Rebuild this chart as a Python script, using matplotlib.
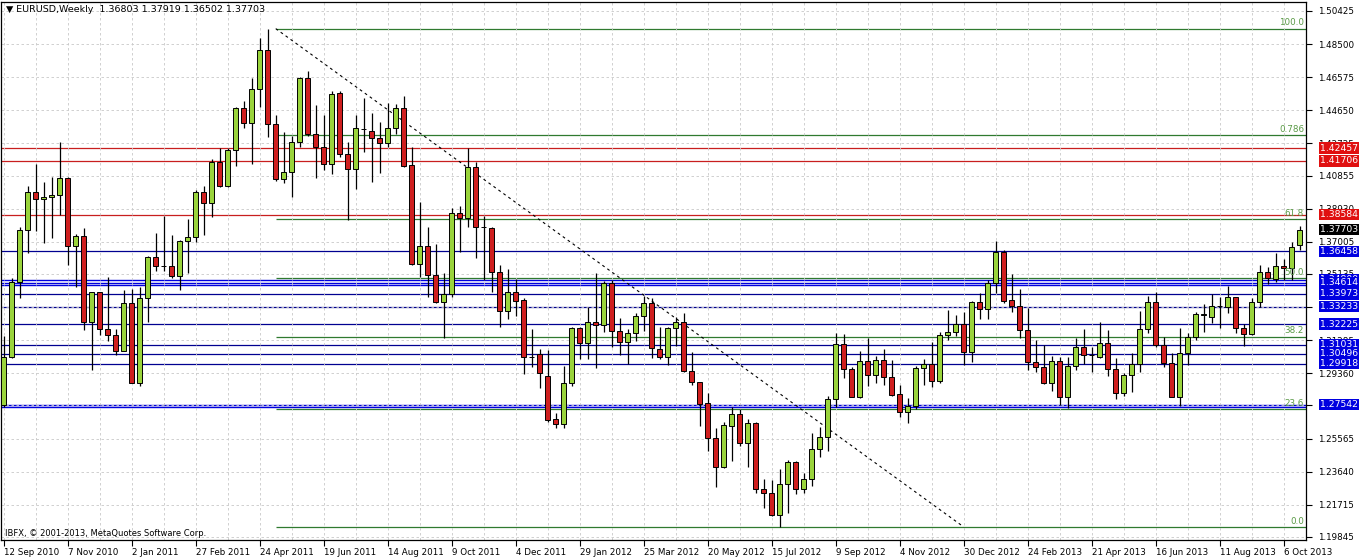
import matplotlib
matplotlib.use("Agg")
import matplotlib.pyplot as plt
import matplotlib.transforms as mtransforms
import numpy as np

# Weekly EURUSD bars, 12 Sep 2010 .. 20 Oct 2013
opens = [1.2752, 1.3033, 1.3469, 1.3769, 1.3992, 1.3948, 1.3960, 1.3973, 1.4073, 1.3678,
         1.3736, 1.3232, 1.3407, 1.3192, 1.3157, 1.3068, 1.3347, 1.2882, 1.3372, 1.3610,
         1.3562, 1.3560, 1.3504, 1.3707, 1.3727, 1.3988, 1.3928, 1.4167, 1.4027, 1.4234,
         1.4477, 1.4393, 1.4587, 1.4816, 1.4384, 1.4064, 1.4108, 1.4283, 1.4651, 1.4327,
         1.4254, 1.4153, 1.4564, 1.4209, 1.4122, 1.4355, 1.4347, 1.4302, 1.4277, 1.4360,
         1.4477, 1.4145, 1.3572, 1.3676, 1.3508, 1.3349, 1.3395, 1.3866, 1.3841, 1.4134,
         1.3785, 1.3779, 1.3527, 1.3300, 1.3407, 1.3362, 1.3033, 1.3046, 1.2920, 1.2669,
         1.2641, 1.2878, 1.3198, 1.3114, 1.3232, 1.3217, 1.3463, 1.3182, 1.3116, 1.3168,
         1.3271, 1.3347, 1.3075, 1.3033, 1.3198, 1.3234, 1.2951, 1.2887, 1.2761, 1.2558,
         1.2389, 1.2632, 1.2698, 1.2529, 1.2645, 1.2262, 1.2238, 1.2112, 1.2291, 1.2418,
         1.2262, 1.2320, 1.2494, 1.2564, 1.2785, 1.3105, 1.2959, 1.2796, 1.3008, 1.2924,
         1.3013, 1.2913, 1.2814, 1.2709, 1.2748, 1.2969, 1.2988, 1.2893, 1.3157, 1.3174,
         1.3223, 1.3058, 1.3349, 1.3308, 1.3463, 1.3643, 1.3362, 1.3329, 1.3188, 1.3004,
         1.2975, 1.2882, 1.3010, 1.2796, 1.2981, 1.3087, 1.3043, 1.3033, 1.3110, 1.2959,
         1.2820, 1.2926, 1.2988, 1.3192, 1.3349, 1.3101, 1.2998, 1.2800, 1.3052, 1.3149,
         1.3276, 1.3265, 1.3329, 1.3320, 1.3378, 1.3198, 1.3163, 1.3349, 1.3527, 1.3484,
         1.3562, 1.3546, 1.36803]
highs = [1.3153, 1.3488, 1.3785, 1.4025, 1.4153, 1.4046, 1.4079, 1.4279, 1.4079, 1.3744,
         1.3779, 1.3411, 1.3411, 1.3498, 1.3192, 1.3420, 1.3424, 1.3440, 1.3618, 1.3750,
         1.3851, 1.3740, 1.3711, 1.3833, 1.4002, 1.4027, 1.4182, 1.4244, 1.4244, 1.4482,
         1.4519, 1.4651, 1.4884, 1.4940, 1.4438, 1.4341, 1.4316, 1.4657, 1.4696, 1.4496,
         1.4438, 1.4579, 1.4579, 1.4283, 1.4438, 1.4535, 1.4448, 1.4399, 1.4510, 1.4500,
         1.4548, 1.4250, 1.3934, 1.3789, 1.3688, 1.3517, 1.3895, 1.3909, 1.4244, 1.4167,
         1.3851, 1.3789, 1.3566, 1.3541, 1.3482, 1.3372, 1.3192, 1.3075, 1.3072, 1.2707,
         1.2979, 1.3203, 1.3207, 1.3320, 1.3521, 1.3475, 1.3479, 1.3260, 1.3192, 1.3289,
         1.3386, 1.3372, 1.3207, 1.3207, 1.3262, 1.3285, 1.3062, 1.2888, 1.2820, 1.2616,
         1.2655, 1.2742, 1.2727, 1.2668, 1.2655, 1.2320, 1.2316, 1.2378, 1.2432, 1.2426,
         1.2355, 1.2587, 1.2626, 1.2804, 1.3168, 1.3165, 1.2975, 1.3068, 1.3139, 1.3037,
         1.3075, 1.3013, 1.2868, 1.2791, 1.2979, 1.3017, 1.3120, 1.3178, 1.3304, 1.3275,
         1.3294, 1.3358, 1.3401, 1.3479, 1.3705, 1.3655, 1.3513, 1.3424, 1.3314, 1.3130,
         1.3101, 1.3037, 1.3033, 1.3033, 1.3139, 1.3194, 1.3091, 1.3236, 1.3188, 1.3023,
         1.2940, 1.3052, 1.3300, 1.3386, 1.3411, 1.3145, 1.3056, 1.3201, 1.3169, 1.3294,
         1.3339, 1.3397, 1.3382, 1.3444, 1.3382, 1.3223, 1.3372, 1.3566, 1.3552, 1.3638,
         1.3599, 1.3701, 1.37919]
lows = [1.2742, 1.3023, 1.3372, 1.3634, 1.3765, 1.3692, 1.3721, 1.3857, 1.3566, 1.3440,
        1.3188, 1.2955, 1.3159, 1.3126, 1.3043, 1.3068, 1.2878, 1.2862, 1.3236, 1.3533,
        1.3533, 1.3488, 1.3420, 1.3517, 1.3701, 1.3740, 1.3847, 1.4021, 1.4021, 1.4143,
        1.4360, 1.4153, 1.4486, 1.4312, 1.4056, 1.4045, 1.3963, 1.4254, 1.4316, 1.4070,
        1.4118, 1.4095, 1.4196, 1.3827, 1.4006, 1.4225, 1.4050, 1.4099, 1.4254, 1.4327,
        1.4134, 1.3566, 1.3498, 1.3378, 1.3343, 1.3139, 1.3382, 1.3639, 1.3789, 1.3605,
        1.3479, 1.3411, 1.3203, 1.3250, 1.3269, 1.2932, 1.2975, 1.2849, 1.2655, 1.2616,
        1.2616, 1.2862, 1.3017, 1.3017, 1.2965, 1.3178, 1.3091, 1.3040, 1.2990, 1.3126,
        1.3184, 1.3025, 1.3017, 1.2984, 1.3095, 1.2946, 1.2868, 1.2632, 1.2486, 1.2277,
        1.2384, 1.2426, 1.2513, 1.2393, 1.2242, 1.2151, 1.2106, 1.2043, 1.2122, 1.2234,
        1.2238, 1.2281, 1.2451, 1.2486, 1.2742, 1.2907, 1.2796, 1.2791, 1.2862, 1.2882,
        1.2868, 1.2805, 1.2680, 1.2649, 1.2727, 1.2868, 1.2858, 1.2878, 1.3130, 1.3153,
        1.2984, 1.3004, 1.3250, 1.3250, 1.3405, 1.3347, 1.3294, 1.3139, 1.2955, 1.2946,
        1.2874, 1.2835, 1.2752, 1.2732, 1.2955, 1.2990, 1.2946, 1.3023, 1.2922, 1.2785,
        1.2806, 1.2829, 1.2946, 1.3169, 1.3091, 1.2975, 1.2796, 1.2746, 1.2984, 1.3130,
        1.3178, 1.3227, 1.3198, 1.3285, 1.3169, 1.3095, 1.3159, 1.3320, 1.3455, 1.3469,
        1.3479, 1.3479, 1.36502]
closes = [1.3033, 1.3469, 1.3769, 1.3992, 1.3948, 1.3960, 1.3973, 1.4070, 1.3678, 1.3736,
          1.3232, 1.3407, 1.3192, 1.3157, 1.3068, 1.3347, 1.2882, 1.3372, 1.3610, 1.3562,
          1.3560, 1.3504, 1.3705, 1.3727, 1.3988, 1.3928, 1.4167, 1.4027, 1.4234, 1.4477,
          1.4393, 1.4587, 1.4816, 1.4384, 1.4064, 1.4108, 1.4283, 1.4651, 1.4327, 1.4254,
          1.4151, 1.4560, 1.4209, 1.4122, 1.4360, 1.4357, 1.4302, 1.4277, 1.4360, 1.4477,
          1.4141, 1.3572, 1.3676, 1.3508, 1.3349, 1.3395, 1.3866, 1.3841, 1.4134, 1.3785,
          1.3784, 1.3527, 1.3300, 1.3407, 1.3358, 1.3029, 1.3030, 1.2936, 1.2665, 1.2641,
          1.2878, 1.3198, 1.3114, 1.3232, 1.3217, 1.3463, 1.3180, 1.3116, 1.3168, 1.3271,
          1.3347, 1.3081, 1.3033, 1.3198, 1.3234, 1.2951, 1.2887, 1.2758, 1.2558, 1.2389,
          1.2636, 1.2698, 1.2529, 1.2645, 1.2262, 1.2238, 1.2112, 1.2291, 1.2418, 1.2262,
          1.2320, 1.2494, 1.2564, 1.2785, 1.3105, 1.2959, 1.2796, 1.3008, 1.2924, 1.3013,
          1.2913, 1.2810, 1.2709, 1.2748, 1.2969, 1.2988, 1.2893, 1.3157, 1.3174, 1.3223,
          1.3058, 1.3349, 1.3308, 1.3463, 1.3639, 1.3358, 1.3329, 1.3188, 1.3004, 1.2975,
          1.2882, 1.3010, 1.2796, 1.2981, 1.3087, 1.3043, 1.3040, 1.3110, 1.2959, 1.2820,
          1.2926, 1.2988, 1.3192, 1.3349, 1.3101, 1.2998, 1.2800, 1.3052, 1.3149, 1.3279,
          1.3280, 1.3329, 1.3327, 1.3378, 1.3198, 1.3163, 1.3349, 1.3527, 1.3488, 1.3562,
          1.3546, 1.3672, 1.37703]

date_labels = ["12 Sep 2010", "7 Nov 2010", "2 Jan 2011", "27 Feb 2011", "24 Apr 2011",
               "19 Jun 2011", "14 Aug 2011", "9 Oct 2011", "4 Dec 2011", "29 Jan 2012",
               "25 Mar 2012", "20 May 2012", "15 Jul 2012", "9 Sep 2012", "4 Nov 2012",
               "30 Dec 2012", "24 Feb 2013", "21 Apr 2013", "16 Jun 2013", "11 Aug 2013",
               "6 Oct 2013"]
price_ticks = [1.50425, 1.48500, 1.46575, 1.44650, 1.42725, 1.40855, 1.38930, 1.37005,
               1.35135, 1.33210, 1.31285, 1.29360, 1.27490, 1.25565, 1.23640, 1.21715, 1.19845]
# tick labels that sit completely under a price box in the original
covered_ticks = [1.33210, 1.27490]

red_levels = [1.42457, 1.41706, 1.38584]
blue_levels = [1.36458, 1.33973, 1.33233, 1.32225, 1.31031, 1.30496, 1.29918]
blue_bold_levels = [1.34800, 1.34614, 1.34520, 1.27542, 1.27400]
blue_labelled = [1.36458, 1.34800, 1.34614, 1.33973, 1.33233, 1.32225,
                 1.31031, 1.30496, 1.29918, 1.27542]

fib_high, fib_low = 1.4940, 1.2043
fib_start_bar, fib_end_bar = 34, 120
fib_ratios = [1.0, 0.786, 0.618, 0.5, 0.382, 0.236, 0.0]
fib_texts = ["100.0", "0.786", "61.8", "50.0", "38.2", "23.6", "0.0"]

header = "EURUSD,Weekly  1.36803 1.37919 1.36502 1.37703"

BULL = "#9ad43c"
BEAR = "#cf1f1f"
FIB = "#2f7a2f"
FIB_TXT = "#5a9a46"

plt.rcParams['font.family'] = ['DejaVu Sans']
fs = 6.3

W, H = 1362, 560
fig = plt.figure(figsize=(W / 100, H / 100), dpi=100)
fig.patch.set_facecolor("white")
ax = fig.add_axes([1 / W, 20 / H, 1305 / W, 538 / H])

o = np.array(opens)
h = np.array(highs)
l = np.array(lows)
c = np.array(closes)
x = np.arange(len(c))

ax.set_xlim(-0.34, 162.79)
ax.set_ylim(1.19669, 1.50948)

# grid
ax.set_yticks(price_ticks)
ax.set_xticks(np.arange(0, 161, 8))
ax.set_xticks(np.arange(0, 163, 4), minor=True)
ax.grid(True, which="both", color="#c9c9c9", linestyle=(0, (3, 3)), linewidth=0.6, zorder=0)

# horizontal support / resistance lines
for lv in red_levels:
    ax.axhline(lv, color="#c81e1e", lw=0.9, zorder=1)
for lv in blue_levels:
    ax.axhline(lv, color="#000090", lw=0.9, zorder=1)
for lv in blue_bold_levels:
    ax.axhline(lv, color="#0000dd", lw=1.0, zorder=1)

# fibonacci retracement
xmax = ax.get_xlim()[1]
for r, t in zip(fib_ratios, fib_texts):
    lv = fib_low + r * (fib_high - fib_low)
    ax.hlines(lv, fib_start_bar, xmax, color=FIB, lw=0.9, zorder=1)
    ax.text(162.55, lv + 0.0007, t, color=FIB_TXT, fontsize=fs, ha="right", va="bottom", zorder=5)
ax.plot([fib_start_bar, fib_end_bar], [fib_high, fib_low], color="black",
        lw=0.8, linestyle=(0, (2.5, 3)), zorder=2)

# candles
ax.vlines(x, l, h, color="black", lw=0.9, zorder=3)
up = c >= o
body_lo = np.minimum(o, c)
body_h = np.maximum(np.abs(c - o), 0.00025)
ax.bar(x[up], body_h[up], bottom=body_lo[up], width=0.6, color=BULL,
       edgecolor="black", linewidth=0.7, zorder=4)
ax.bar(x[~up], body_h[~up], bottom=body_lo[~up], width=0.6, color=BEAR,
       edgecolor="black", linewidth=0.7, zorder=4)

# axes styling
for s in ax.spines.values():
    s.set_color("black")
    s.set_linewidth(0.9)
ax.yaxis.tick_right()
ax.set_yticklabels(["" if p in covered_ticks else f"{p:.5f}" for p in price_ticks])
ax.tick_params(axis="y", which="major", direction="out", length=4, width=0.8,
               labelsize=fs, pad=5, colors="black")
ax.set_xticklabels(date_labels)
ax.tick_params(axis="x", which="major", direction="out", length=4, width=0.8,
               labelsize=fs, pad=2)
ax.tick_params(axis="x", which="minor", length=0)
for lbl in ax.get_xticklabels():
    lbl.set_ha("left")

# price label boxes on the right
tr = mtransforms.blended_transform_factory(ax.transAxes, ax.transData)
def price_box(val, color):
    ax.text(1.0105, val, f"{val:.5f}", transform=tr, color="white", fontsize=fs + 0.4,
            ha="left", va="center", zorder=10, clip_on=False,
            bbox=dict(boxstyle="square,pad=0.12", fc=color, ec="none"))

for lv in red_levels:
    price_box(lv, "#e01010")
price_box(closes[-1], "black")
for lv in blue_labelled:
    price_box(lv, "#0000e0")

# header and copyright
ax.text(5 / 1305, 1 - 7 / 538, "\u25bc " + header, transform=ax.transAxes,
        fontsize=fs + 0.5, ha="left", va="center", zorder=10)
ax.text(4 / 1305, 1 - 532 / 538, "IBFX, \u00a9 2001-2013, MetaQuotes Software Corp.",
        transform=ax.transAxes, fontsize=fs - 0.3, ha="left", va="center", zorder=10)

fig.savefig("out.png", dpi=100)
